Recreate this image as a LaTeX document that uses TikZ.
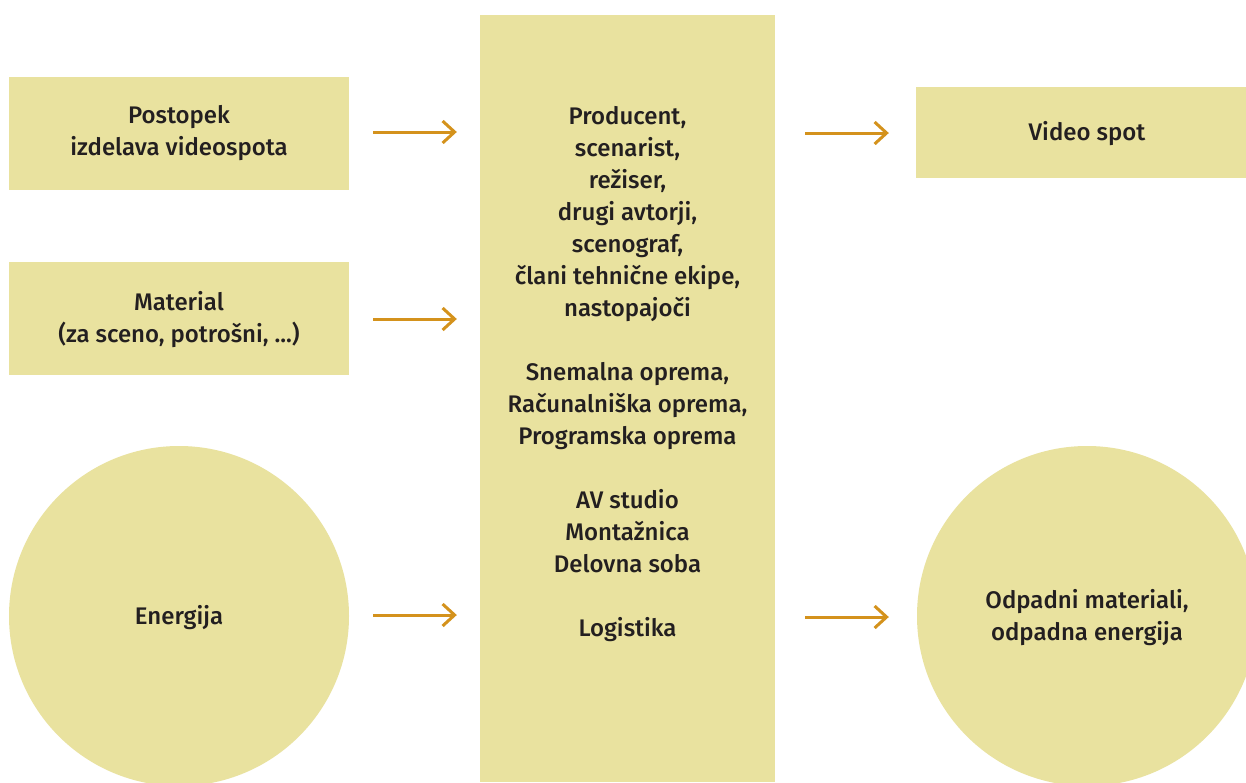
\documentclass[tikz,border=0pt]{standalone}
\usepackage{fontspec}
\setmainfont{Fira Sans Medium}
\usetikzlibrary{arrows.meta}
\definecolor{boxfill}{HTML}{E9E29F}
\definecolor{flow}{HTML}{D4921C}
\definecolor{ink}{HTML}{231F20}
\begin{document}
\begin{tikzpicture}[x=1pt,y=-1pt,
  every node/.style={text=ink,font=\fontsize{24}{32}\selectfont,align=center,inner sep=0pt},
  panel/.style={fill=boxfill,draw=none,rectangle},
  blob/.style={fill=boxfill,draw=none,circle,minimum size=340pt},
  flowarrow/.style={draw=flow,line width=3pt,-{Straight Barb[length=12pt,width=22pt,line width=3pt]}}]
  \clip (0,0) rectangle (1246,782);
  \fill[white] (0,0) rectangle (1246,782);

  % inputs
  \node[panel,minimum width=340pt,minimum height=113pt] (proc) at (179,133.5) {};
  \node at (179,133) {Postopek\\izdelava videospota};
  \node[panel,minimum width=340pt,minimum height=113pt] (mat) at (179,318) {};
  \node at (179,320) {Material\\(za sceno, potrošni, ...)};
  \node[blob] (ene) at (179,616) {};
  \node at (179,618) {Energija};

  % resources
  \node[panel,minimum width=295pt,minimum height=767pt] (res) at (627.5,398.5) {};
  \node (restext) at (627.5,374) {Producent,\\scenarist,\\režiser,\\drugi avtorji,\\scenograf,\\člani tehnične ekipe,\\nastopajoči\\[32pt]Snemalna oprema,\\Računalniška oprema,\\Programska oprema\\[32pt]AV studio\\Montažnica\\Delovna soba\\[32pt]Logistika};

  % outputs
  \node[panel,minimum width=340pt,minimum height=91pt] (vid) at (1086,132.5) {};
  \node at (1087,133.5) {Video spot};
  \node[blob] (waste) at (1087,616) {};
  \node at (1087,618) {Odpadni materiali,\\odpadna energija};

  % flows
  \draw[flowarrow,shorten <=24pt,shorten >=23pt] (proc.east |- 0,132) -- (res.west |- 0,132);
  \draw[flowarrow,shorten <=24pt,shorten >=23pt] (mat.east |- 0,319) -- (res.west |- 0,319);
  \draw[flowarrow,shorten <=24pt,shorten >=23pt] (ene.east |- 0,615) -- (res.west |- 0,615);
  \draw[flowarrow,shorten <=30pt,shorten >=27pt] (res.east |- 0,133) -- (vid.west |- 0,133);
  \draw[flowarrow,shorten <=30pt,shorten >=28pt] (res.east |- 0,617) -- (waste.west |- 0,617);
\end{tikzpicture}
\end{document}
